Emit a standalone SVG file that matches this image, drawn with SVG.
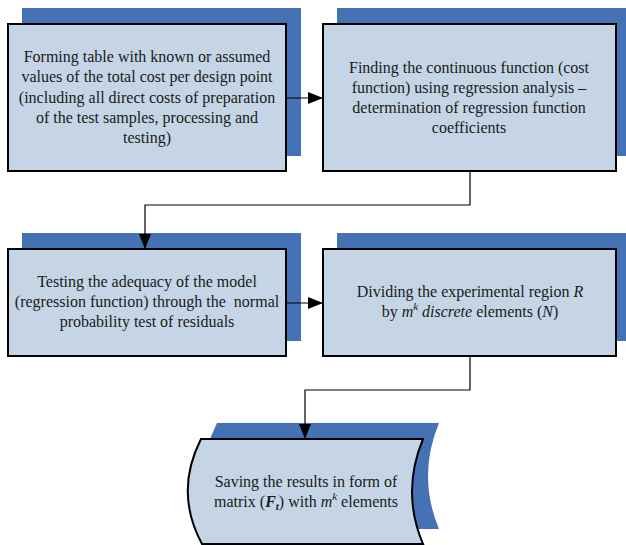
<svg xmlns="http://www.w3.org/2000/svg" width="626" height="545" viewBox="0 0 626 545">
<defs>
<style>
.sh{fill:#4472b4;}
.fr{fill:#c5d5e5;stroke:#000;stroke-width:2;}
.t{font-family:"Liberation Serif","Times New Roman",serif;font-size:16px;fill:#1a1a1a;text-anchor:middle;}
.it{font-style:italic;}
.c{fill:none;stroke:#000;stroke-width:1.2;}
</style>
<marker id="ah" markerWidth="15" markerHeight="12" refX="15" refY="6" orient="auto" markerUnits="userSpaceOnUse">
<path d="M0,0 L15,6 L0,12 Z" fill="#000"/>
</marker>
</defs>
<rect width="626" height="545" fill="#fff"/>
<g id="node1">
<rect class="sh" x="22" y="8" width="279" height="148"/>
<rect class="fr" x="8" y="24" width="278" height="147"/>
<text class="t" x="147" y="62">Forming table with known or assumed</text>
<text class="t" x="147" y="82">values of the total cost per design point</text>
<text class="t" x="147" y="103">(including all direct costs of preparation</text>
<text class="t" x="147" y="123">of the test samples, processing and</text>
<text class="t" x="147" y="143">testing)</text>
</g>
<g id="node2">
<rect class="sh" x="337" y="8" width="294" height="148"/>
<rect class="fr" x="323" y="24" width="293" height="147"/>
<text class="t" x="469" y="73">Finding the continuous function (cost</text>
<text class="t" x="469" y="93">function) using regression analysis –</text>
<text class="t" x="469" y="113">determination of regression function</text>
<text class="t" x="469" y="133">coefficients</text>
</g>
<g id="node3">
<rect class="sh" x="22" y="233" width="279" height="108"/>
<rect class="fr" x="8" y="249" width="278" height="107"/>
<text class="t" x="147" y="287">Testing the adequacy of the model</text>
<text class="t" x="147" y="307" xml:space="preserve">(regression function) through the  normal</text>
<text class="t" x="147" y="327">probability test of residuals</text>
</g>
<g id="node4">
<rect class="sh" x="337" y="233" width="294" height="108"/>
<rect class="fr" x="323" y="249" width="293" height="107"/>
<text class="t" x="470" y="297">Dividing the experimental region <tspan class="it">R</tspan></text>
<text class="t" x="470" y="317">by <tspan class="it">m</tspan><tspan class="it" font-size="11" dy="-7">k</tspan><tspan class="it" dy="7"> discrete</tspan> elements (<tspan class="it">N</tspan>)</text>
</g>
<g id="node5">
<path class="sh" d="M217,423 L439,423 Q417,476 439,529 L218,529 Q190,476 217,423 Z"/>
<path class="fr" d="M201,439 L423,439 Q401,492 423,544 L202,544 Q174,492 201,439 Z"/>
<text class="t" x="306" y="487">Saving the results in form of</text>
<text class="t" x="306" y="507">matrix (<tspan class="it" font-weight="bold">F</tspan><tspan class="it" font-weight="bold" font-size="11" dy="3">t</tspan><tspan dy="-3">) with </tspan><tspan class="it">m</tspan><tspan class="it" font-size="11" dy="-7">k</tspan><tspan dy="7"> elements</tspan></text>
</g>
<g id="connectors">
<line class="c" x1="286" y1="98" x2="323" y2="98" marker-end="url(#ah)"/>
<polyline class="c" points="470,171 470,205 145,205 145,249" marker-end="url(#ah)"/>
<line class="c" x1="286" y1="303" x2="323" y2="303" marker-end="url(#ah)"/>
<polyline class="c" points="470,356 470,390 305,390 305,439" marker-end="url(#ah)"/>
</g>
</svg>
